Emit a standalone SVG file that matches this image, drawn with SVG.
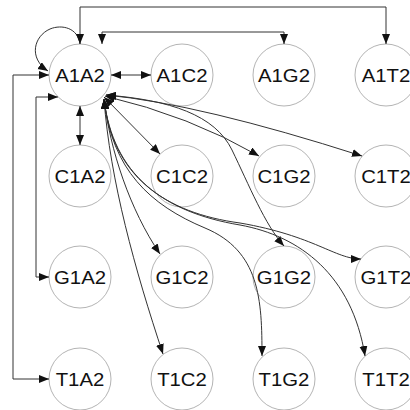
<svg xmlns="http://www.w3.org/2000/svg" width="410" height="410" viewBox="0 0 410 410">
<defs>
<marker id="ah" markerUnits="userSpaceOnUse" markerWidth="11" markerHeight="9" refX="10" refY="4" orient="auto-start-reverse">
<path d="M0,0 L10,4 L0,8 z" fill="#111"/>
</marker>
<style>
.n circle{fill:#fff;stroke:#b4b4b4;stroke-width:1}
.n text{font-family:"Liberation Sans",Arial,sans-serif;font-size:18px;fill:#111;text-anchor:middle}
#edges path{fill:none;stroke:#333;stroke-width:1}
.b{marker-start:url(#ah);marker-end:url(#ah)}
.e{marker-end:url(#ah)}
</style>
</defs>
<rect width="410" height="410" fill="#fff"/>
<g id="nodes">
<g id="A1A2" class="n"><circle cx="80" cy="75" r="31"/><text x="80" y="81.5" textLength="49.7" lengthAdjust="spacingAndGlyphs">A1A2</text></g>
<g id="A1C2" class="n"><circle cx="182" cy="75" r="31"/><text x="182" y="81.5" textLength="50.9" lengthAdjust="spacingAndGlyphs">A1C2</text></g>
<g id="A1G2" class="n"><circle cx="284" cy="75" r="31"/><text x="284" y="81.5" textLength="52" lengthAdjust="spacingAndGlyphs">A1G2</text></g>
<g id="A1T2" class="n"><circle cx="386" cy="75" r="31"/><text x="386" y="81.5" textLength="48.6" lengthAdjust="spacingAndGlyphs">A1T2</text></g>
<g id="C1A2" class="n"><circle cx="80" cy="176" r="31"/><text x="80" y="182.5" textLength="50.9" lengthAdjust="spacingAndGlyphs">C1A2</text></g>
<g id="C1C2" class="n"><circle cx="182" cy="176" r="31"/><text x="182" y="182.5" textLength="52" lengthAdjust="spacingAndGlyphs">C1C2</text></g>
<g id="C1G2" class="n"><circle cx="284" cy="176" r="31"/><text x="284" y="182.5" textLength="53.1" lengthAdjust="spacingAndGlyphs">C1G2</text></g>
<g id="C1T2" class="n"><circle cx="386" cy="176" r="31"/><text x="386" y="182.5" textLength="49.7" lengthAdjust="spacingAndGlyphs">C1T2</text></g>
<g id="G1A2" class="n"><circle cx="80" cy="277" r="31"/><text x="80" y="283.5" textLength="52" lengthAdjust="spacingAndGlyphs">G1A2</text></g>
<g id="G1C2" class="n"><circle cx="182" cy="277" r="31"/><text x="182" y="283.5" textLength="53.1" lengthAdjust="spacingAndGlyphs">G1C2</text></g>
<g id="G1G2" class="n"><circle cx="284" cy="277" r="31"/><text x="284" y="283.5" textLength="54.3" lengthAdjust="spacingAndGlyphs">G1G2</text></g>
<g id="G1T2" class="n"><circle cx="386" cy="277" r="31"/><text x="386" y="283.5" textLength="50.9" lengthAdjust="spacingAndGlyphs">G1T2</text></g>
<g id="T1A2" class="n"><circle cx="80" cy="379" r="31"/><text x="80" y="385.5" textLength="48.6" lengthAdjust="spacingAndGlyphs">T1A2</text></g>
<g id="T1C2" class="n"><circle cx="182" cy="379" r="31"/><text x="182" y="385.5" textLength="49.7" lengthAdjust="spacingAndGlyphs">T1C2</text></g>
<g id="T1G2" class="n"><circle cx="284" cy="379" r="31"/><text x="284" y="385.5" textLength="50.9" lengthAdjust="spacingAndGlyphs">T1G2</text></g>
<g id="T1T2" class="n"><circle cx="386" cy="379" r="31"/><text x="386" y="385.5" textLength="47.5" lengthAdjust="spacingAndGlyphs">T1T2</text></g>
</g>
<g id="edges">
<path class="e" d="M80,44 C78,28 62,24 50,29 C34,36 28,58 48,71"/>
<path class="b" d="M80,44 V7 H386 V44"/>
<path class="b" d="M102,44 V32 H284 V44"/>
<path class="b" d="M49,75 H13 V379 H49"/>
<path class="b" d="M58,97 H36 V277 H49"/>
<path class="b" d="M111,75 H151"/>
<path class="b" d="M80,106 V145"/>
<path class="b" d="M104,97 L160,154"/>
<path class="b" d="M105,96 Q190,116 259,156"/>
<path class="b" d="M106,95 Q200,104 362,156"/>
<path class="b" d="M106,95 C170,100 215,115 232,150 C249,185 265,225 284,246"/>
<path class="b" d="M104,99 C110,150 130,210 160,254"/>
<path class="b" d="M104,99 C110,180 135,270 163,354"/>
<path class="b" d="M104,99 C112,170 150,205 205,228 C260,251 262,300 262,356"/>
<path class="b" d="M104,99 C113,174 162,212 240,225 C300,236 352,275 365,356"/>
<path class="b" d="M104,99 C112,176 165,213 240,223 C315,236 335,259 361,259"/>
</g>
</svg>
